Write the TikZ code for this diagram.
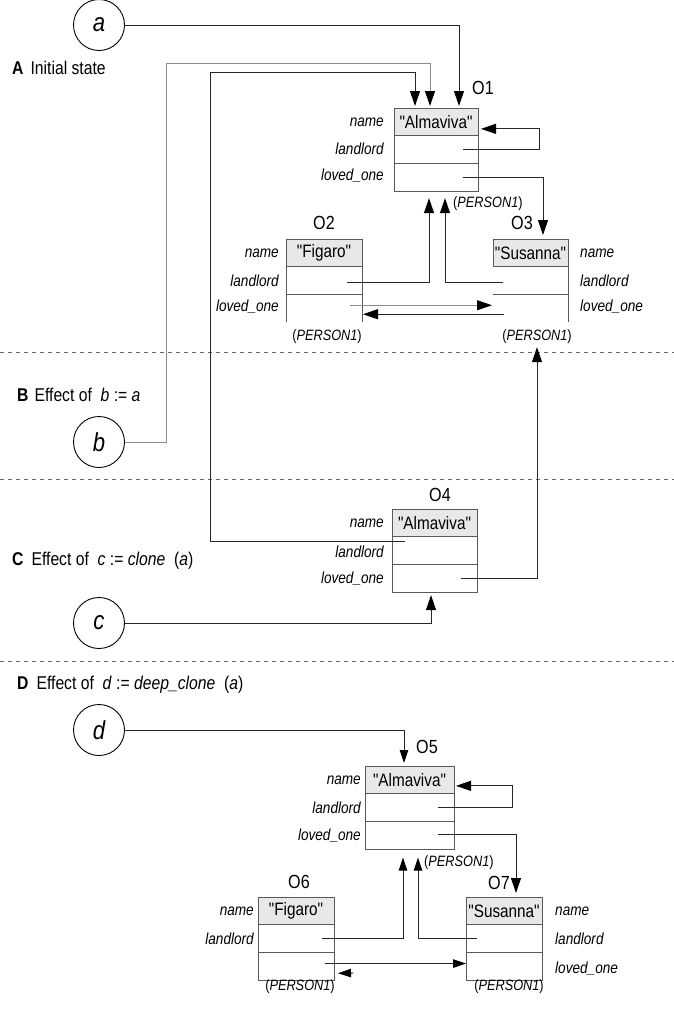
\documentclass[tikz,border=0pt]{standalone}
\usepackage{fontspec}
\setmainfont{Liberation Sans}[FakeStretch=0.85, Ligatures=TeXOff]
\usetikzlibrary{arrows.meta}
\definecolor{boxc}{gray}{0.35}
\definecolor{namebg}{gray}{0.91}
\definecolor{linec}{gray}{0.15}
\definecolor{lineg}{gray}{0.55}
\newcommand\objbox[5]{%
  \node[namefld, minimum width=#4, anchor=north west] (#1n) at (#2,#3) {#5};
  \node[fld, minimum width=#4, anchor=north] (#1l) at (#1n.south) {};
  \node[fld, minimum width=#4, anchor=north] (#1o) at (#1l.south) {};}
\begin{document}
\begin{tikzpicture}[x=1pt,y=-1pt,
  namefld/.style={draw=boxc, fill=namebg, line width=1pt, inner sep=0pt, outer sep=0pt,
    minimum height=27.7pt, font=\fontsize{18}{18}\selectfont},
  fld/.style={draw=boxc, line width=1pt, inner sep=0pt, outer sep=0pt, minimum height=27.7pt},
  fldnd/.style={inner sep=0pt, outer sep=0pt, minimum height=27.7pt},
  boxline/.style={draw=boxc, line width=1pt},
  conn/.style={draw=linec, line width=1pt, -{Triangle[length=15pt,width=10pt,color=black]}},
  conng/.style={draw=lineg, line width=1pt, -{Triangle[length=15pt,width=10pt,color=black]}},
  conns/.style={draw=linec, line width=1pt, -{Triangle[length=13pt,width=8.5pt,color=black]}},
  var/.style={circle, draw=black, line width=0.9pt, minimum size=51pt, inner sep=0pt,
    font=\fontsize{26}{26}\selectfont\itshape},
  flbl/.style={inner sep=0pt, font=\fontsize{16}{16}\selectfont\itshape},
  oname/.style={inner sep=0pt, font=\fontsize{19}{19}\selectfont},
  plbl/.style={inner sep=0pt, font=\fontsize{15}{15}\selectfont},
  title/.style={inner sep=0pt, anchor=west, font=\fontsize{18.5}{18.5}\selectfont},
  sep/.style={draw=black!60, line width=1pt, dash pattern=on 4pt off 4pt}
]
\useasboundingbox (0,0) rectangle (674,1009);

% separators
\draw[sep] (0,352) -- (674,352);
\draw[sep] (0,479) -- (674,479);
\draw[sep] (0,661) -- (674,661);

% titles
\node[title] (tA) at (12,68) {\textbf{A}\hspace{7pt}Initial state};
\node[title] (tB) at (17,395) {\textbf{B}\hspace{6pt}Effect of \ \textit{b} := \textit{a}};
\node[title] (tC) at (12,561) {\textbf{C}\hspace{8pt}Effect of \ \textit{c} := \textit{clone} \ (\textit{a})};
\node[title] (tD) at (17,685) {\textbf{D}\hspace{8pt}Effect of \ \textit{d} := \textit{deep\_clone} \ (\textit{a})};

% variables
\node[var] (a) at (99,25) {a};
\node[var] (b) at (99,442) {b};
\node[var] (c) at (99,623) {c};
\node[var] (d) at (99,730) {d};

% ---------- O1
\objbox{o1}{394}{108}{84pt}{"Almaviva"}
\node[oname, anchor=west] (O1) at (472,88) {O1};
\node[flbl, anchor=east] (o1a) at ([xshift=-10pt]o1n.west) {name};
\node[flbl, anchor=east] (o1b) at ([xshift=-10pt,yshift=1pt]o1l.west) {landlord};
\node[flbl, anchor=east] (o1c) at ([xshift=-10pt,yshift=2pt]o1o.west) {loved\_one};
\node[plbl, anchor=west] (p1) at (453,204) {(\textit{PERSON1})};

% ---------- O2
\node[namefld, minimum width=76pt, anchor=north west] (o2n) at (286,239) {"Figaro"};
\node[fld, minimum width=76pt, anchor=north] (o2l) at (o2n.south) {};
\node[fldnd, minimum width=76pt, anchor=north] (o2o) at (o2l.south) {};
\draw[boxline] (o2o.north west) -- (o2o.south west) (o2o.north east) -- (o2o.south east);
\node[oname] (O2) at (324,223) {O2};
\node[flbl, anchor=east] (o2a) at ([xshift=-7pt]o2n.west) {name};
\node[flbl, anchor=east] (o2b) at ([xshift=-7pt]o2l.west) {landlord};
\node[flbl, anchor=east] (o2c) at ([xshift=-7pt,yshift=2pt]o2o.west) {loved\_one};
\node[plbl] (p2) at (327,337) {(\textit{PERSON1})};

% ---------- O3
\node[namefld, minimum width=75pt, anchor=north west] (o3n) at (493,239) {"Susanna"};
\node[fldnd, minimum width=75pt, anchor=north] (o3l) at (o3n.south) {};
\node[fldnd, minimum width=75pt, anchor=north] (o3o) at (o3l.south) {};
\draw[boxline] (o3l.north east) -- (o3o.south east) (o3l.south west) -- (o3l.south east);
\node[oname] (O3) at (522,223) {O3};
\node[flbl, anchor=west] (o3a) at ([xshift=12pt]o3n.east) {name};
\node[flbl, anchor=west] (o3b) at ([xshift=12pt]o3l.east) {landlord};
\node[flbl, anchor=west] (o3c) at ([xshift=12pt,yshift=2pt]o3o.east) {loved\_one};
\node[plbl] (p3) at (537,337) {(\textit{PERSON1})};

% ---------- O4
\objbox{o4}{392}{509}{85pt}{"Almaviva"}
\node[oname] (O4) at (440,495) {O4};
\node[flbl, anchor=east] (o4a) at ([xshift=-8pt]o4n.west) {name};
\node[flbl, anchor=east] (o4b) at ([xshift=-8pt,yshift=-1pt]o4l.west) {landlord};
\node[flbl, anchor=east] (o4c) at ([xshift=-8pt]o4o.west) {loved\_one};

% ---------- O5
\objbox{o5}{365}{766}{89pt}{"Almaviva"}
\node[oname] (O5) at (427,747) {O5};
\node[flbl, anchor=east] (o5a) at ([xshift=-4pt]o5n.west) {name};
\node[flbl, anchor=east] (o5b) at ([xshift=-4pt]o5l.west) {landlord};
\node[flbl, anchor=east] (o5c) at ([xshift=-4pt]o5o.west) {loved\_one};
\node[plbl, anchor=west] (p5) at (424,863) {(\textit{PERSON1})};

% ---------- O6
\objbox{o6}{258}{897}{76pt}{"Figaro"}
\node[oname] (O6) at (299,882) {O6};
\node[flbl, anchor=east] (o6a) at ([xshift=-4pt]o6n.west) {name};
\node[flbl, anchor=east] (o6b) at ([xshift=-4pt]o6l.west) {landlord};
\node[plbl] (p6) at (300,987) {(\textit{PERSON1})};

% ---------- O7
\objbox{o7}{466}{897}{76pt}{"Susanna"}
\node[oname] (O7) at (499,883) {O7};
\node[flbl, anchor=west] (o7a) at ([xshift=13pt]o7n.east) {name};
\node[flbl, anchor=west] (o7b) at ([xshift=13pt]o7l.east) {landlord};
\node[flbl, anchor=west] (o7c) at ([xshift=13pt,yshift=-2pt]o7o.east) {loved\_one};
\node[plbl] (p7) at (509,987) {(\textit{PERSON1})};

% ---------- connectors, part A
\draw[conn] (a.east) -| ([xshift=23pt,yshift=2pt]o1n.north);
\coordinate (bk) at (166,63);
\draw[conng] (b.east) -| (bk) -| ([xshift=-6pt,yshift=2pt]o1n.north);
\coordinate (ck) at (210,72);
\draw[conn] ([xshift=-29.5pt,yshift=9pt]o4l.center) -| (ck) -| ([xshift=-21pt,yshift=2pt]o1n.north);
\draw[conn] ([xshift=27pt]o1l.center) -- ++(76,0) |- ([xshift=3pt,yshift=-7pt]o1n.east);
\draw[conn] ([xshift=27pt]o1o.center) -| ([xshift=12.5pt,yshift=4pt]o3n.north);
\draw[conn] ([xshift=23pt,yshift=-2pt]o2l.center) -| ([xshift=-7pt,yshift=-7pt]o1o.south);
\draw[conn] ([xshift=-27.5pt,yshift=-2pt]o3l.center) -| ([xshift=9pt,yshift=-7pt]o1o.south);
\draw[conng] ([xshift=26pt,yshift=3pt]o2o.center) -- ([xshift=-1pt,yshift=3pt]o3o.west);
\draw[conn] ([xshift=-26.5pt,yshift=-6pt]o3o.center) -- ([xshift=1pt,yshift=-6pt]o2o.east);

% part C
\draw[conn] ([xshift=26.5pt]o4o.center) -| ([yshift=-3pt]p3.south);
\draw[conn] (c.east) -| ([xshift=-3.5pt,yshift=-3pt]o4o.south);

% part D
\draw[conns] (d.east) -| ([xshift=-5.5pt,yshift=3pt]o5n.north);
\draw[conn] ([xshift=28.5pt]o5l.center) -- ++(74,0) |- ([xshift=2pt,yshift=-6pt]o5n.east);
\draw[conn] ([xshift=28.5pt,yshift=1pt]o5o.center) -| ([xshift=12pt,yshift=4pt]o7n.north);
\draw[conns] ([xshift=26pt]o6l.center) -| ([xshift=-6.5pt,yshift=-8.5pt]o5o.south);
\draw[conns] ([xshift=-27pt]o7l.center) -| ([xshift=8.5pt,yshift=-8.5pt]o5o.south);
\draw[conns] ([xshift=29pt,yshift=2.7pt]o6o.center) -- ([yshift=2.7pt]o7o.west);
\coordinate (st) at (353,973);
\draw[conns] (st) -- ([xshift=4pt,yshift=-7pt]o6o.east);
\end{tikzpicture}
\end{document}
